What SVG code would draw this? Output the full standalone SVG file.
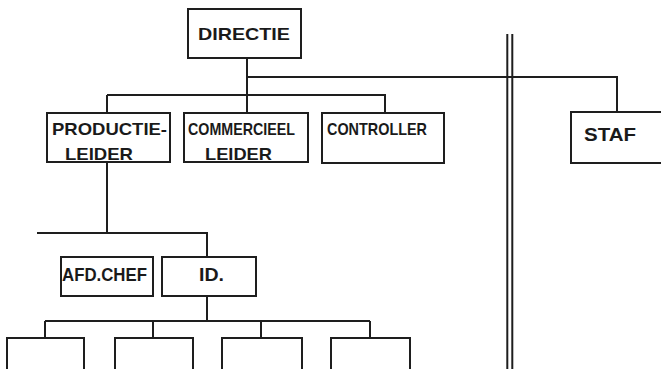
<svg xmlns="http://www.w3.org/2000/svg" width="661" height="369" viewBox="0 0 661 369">
<style>
.box{fill:none;stroke:#1e1e1e;stroke-width:2}
.ln{fill:none;stroke:#1e1e1e;stroke-width:2}
.t{font-family:"Liberation Sans","DejaVu Sans",sans-serif;font-weight:bold;fill:#1a1a1a;font-size:17px}
</style>
<rect width="661" height="369" fill="#ffffff"/>
<g id="connectors">
<path class="ln" d="M247,58 V95 M247,77 H617 V112 M107,95 H385 V113 M107,95 V113 M247,95 V113"/>
<path class="ln" d="M107,162 V233 M37,233 H207 V257 M207,296 V321 M45,321 H370 M45,321 V338 M153,321 V338 M261,321 V338 M370,321 V338"/>
<path class="ln" d="M507.3,34 V369 M512.3,34 V369" stroke-width="1.8"/>
</g>
<g id="directie"><rect class="box" x="188" y="9" width="113" height="49"/><text class="t" x="198" y="40" textLength="92" lengthAdjust="spacingAndGlyphs">DIRECTIE</text></g>
<g id="productieleider"><rect class="box" x="47" y="113" width="123" height="49"/><text class="t" x="52" y="135" textLength="115" lengthAdjust="spacingAndGlyphs">PRODUCTIE-</text><text class="t" x="65" y="160" textLength="68" lengthAdjust="spacingAndGlyphs">LEIDER</text></g>
<g id="commercieelleider"><rect class="box" x="184" y="113" width="124" height="49"/><text class="t" x="188" y="135" textLength="107" lengthAdjust="spacingAndGlyphs">COMMERCIEEL</text><text class="t" x="205" y="160" textLength="67" lengthAdjust="spacingAndGlyphs">LEIDER</text></g>
<g id="controller"><rect class="box" x="322" y="113" width="122" height="50"/><text class="t" x="327" y="135" textLength="100" lengthAdjust="spacingAndGlyphs">CONTROLLER</text></g>
<g id="staf"><rect class="box" x="571" y="112" width="100" height="51"/><text class="t" x="584" y="141" style="font-size:19px" textLength="52" lengthAdjust="spacingAndGlyphs">STAF</text></g>
<g id="afdchef"><rect class="box" x="61" y="257" width="92" height="39"/><text class="t" x="62" y="281" style="font-size:18px" textLength="85" lengthAdjust="spacingAndGlyphs">AFD.CHEF</text></g>
<g id="id"><rect class="box" x="162" y="257" width="94" height="39"/><text class="t" x="199" y="281" style="font-size:18px" textLength="25" lengthAdjust="spacingAndGlyphs">ID.</text></g>
<g id="unit1"><rect class="box" x="7" y="338" width="77" height="40"/></g>
<g id="unit2"><rect class="box" x="115" y="338" width="78" height="40"/></g>
<g id="unit3"><rect class="box" x="222" y="338" width="80" height="40"/></g>
<g id="unit4"><rect class="box" x="331" y="338" width="79" height="40"/></g>
</svg>
